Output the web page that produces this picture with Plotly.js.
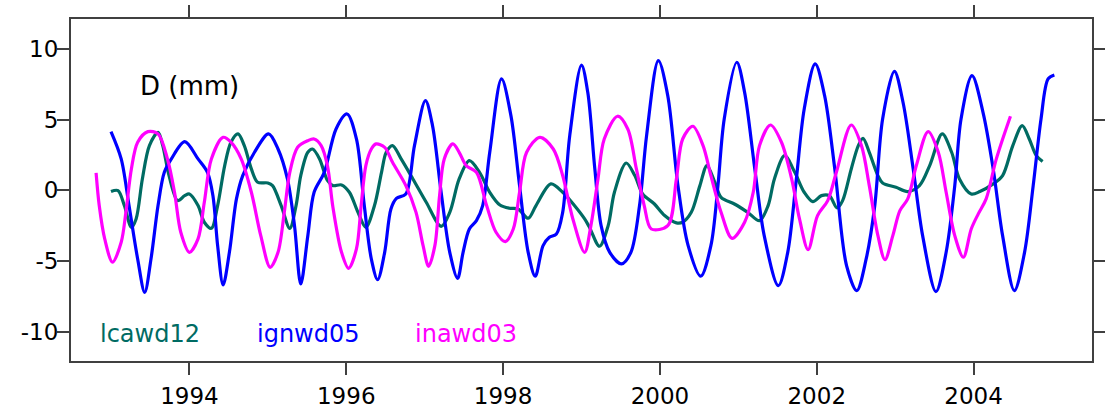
<!DOCTYPE html>
<html>
<head>
<meta charset="utf-8">
<script src="https://cdn.plot.ly/plotly-3.0.1.min.js"></script>
<style>html,body{margin:0;padding:0;background:#fff;}#chart{width:1105px;height:409px;}</style>
</head>
<body>
<div id="chart"></div>
<script>
// lcawd12 (teal)
const lcawdX = [1993.0,1993.09,1993.17,1993.26,1993.32,1993.40,1993.49,1993.60,1993.66,1993.74,1993.85,1993.94,1994.0,1994.11,1994.19,1994.28,1994.36,1994.45,1994.53,1994.62,1994.70,1994.79,1994.87,1995.0,1995.06,1995.17,1995.28,1995.36,1995.42,1995.51,1995.57,1995.66,1995.76,1995.83,1995.94,1996.04,1996.15,1996.25,1996.36,1996.45,1996.51,1996.59,1996.70,1996.85,1997.02,1997.21,1997.32,1997.44,1997.57,1997.70,1997.83,1997.96,1998.08,1998.19,1998.32,1998.42,1998.61,1998.76,1998.91,1999.04,1999.10,1999.23,1999.34,1999.42,1999.57,1999.68,1999.78,1999.93,2000.06,2000.21,2000.29,2000.40,2000.51,2000.60,2000.70,2000.78,2000.95,2001.12,2001.27,2001.38,2001.46,2001.59,2001.72,2001.84,2001.95,2002.06,2002.16,2002.26,2002.33,2002.44,2002.53,2002.59,2002.67,2002.78,2002.84,2003.01,2003.16,2003.31,2003.44,2003.60,2003.72,2003.82,2003.97,2004.08,2004.25,2004.37,2004.50,2004.62,2004.71,2004.80,2004.88];
const lcawdY = [-0.09,-0.02,-1.08,-2.62,-2.03,0.80,3.16,4.10,3.16,1.04,-0.73,-0.38,-0.26,-1.08,-2.26,-2.69,-1.08,1.75,3.40,3.99,3.16,1.51,0.57,0.52,0.33,-1.08,-2.69,-1.08,1.04,2.69,2.92,2.22,0.70,0.33,0.38,-0.14,-1.56,-2.62,-1.08,1.27,2.69,3.16,2.22,0.80,-0.85,-2.55,-1.56,0.80,2.10,1.27,-0.14,-1.04,-1.27,-1.32,-1.98,-1.08,0.45,-0.14,-1.08,-2.03,-2.60,-3.96,-2.50,-0.14,1.93,1.04,-0.26,-0.97,-1.79,-2.31,-2.26,-1.56,0.33,1.75,0.57,-0.50,-0.97,-1.56,-2.15,-1.08,0.80,2.45,1.27,-0.14,-0.80,-0.38,-0.38,-1.25,-0.73,1.51,3.16,3.68,2.69,1.04,0.52,0.21,-0.09,0.33,1.75,3.99,2.69,0.80,-0.26,-0.09,0.45,1.04,3.16,4.58,3.63,2.45,2.03];

// ignwd05 (blue)
const ignwdX = [1993.0,1993.13,1993.23,1993.34,1993.43,1993.51,1993.60,1993.68,1993.77,1993.94,1994.11,1994.23,1994.30,1994.36,1994.43,1994.51,1994.60,1994.68,1994.83,1995.01,1995.13,1995.25,1995.34,1995.42,1995.51,1995.59,1995.72,1995.87,1996.01,1996.13,1996.23,1996.32,1996.40,1996.49,1996.57,1996.64,1996.76,1996.87,1997.01,1997.10,1997.21,1997.32,1997.42,1997.49,1997.57,1997.66,1997.74,1997.83,1997.98,1998.10,1998.21,1998.32,1998.41,1998.51,1998.59,1998.68,1998.76,1998.85,1999.0,1999.08,1999.17,1999.25,1999.36,1999.51,1999.63,1999.74,1999.83,1999.98,2000.10,2000.23,2000.36,2000.52,2000.65,2000.74,2000.82,2000.98,2001.08,2001.21,2001.33,2001.51,2001.63,2001.74,2001.84,2001.98,2002.10,2002.23,2002.38,2002.51,2002.63,2002.74,2002.84,2002.99,2003.10,2003.23,2003.35,2003.52,2003.65,2003.76,2003.84,2003.98,2004.12,2004.25,2004.37,2004.52,2004.65,2004.76,2004.86,2004.95,2005.03];
const ignwdY = [4.15,2.22,-1.08,-4.86,-7.22,-4.86,-1.08,1.27,2.22,3.44,2.22,1.27,-0.38,-3.92,-6.70,-4.39,-0.61,1.04,2.69,3.99,2.92,0.80,-2.50,-6.63,-3.21,-0.14,1.27,4.34,5.40,3.63,-1.08,-4.86,-6.32,-4.39,-1.32,-0.57,-0.26,3.16,6.34,4.58,-0.14,-4.39,-6.23,-4.39,-2.74,-2.15,-1.08,2.69,7.88,5.28,0.33,-4.39,-6.08,-3.92,-3.33,-3.09,-1.56,3.87,8.85,6.93,1.51,-2.50,-4.39,-5.21,-4.39,-1.08,3.87,9.17,6.70,0.33,-3.92,-6.08,-3.92,0.33,5.05,9.06,6.93,1.51,-3.21,-6.75,-4.39,0.80,5.75,8.94,6.70,1.51,-5.33,-7.10,-4.86,-1.08,5.05,8.42,6.23,1.51,-3.21,-7.17,-4.39,0.33,5.05,8.11,5.52,1.51,-3.21,-7.10,-4.39,0.33,5.05,7.88,8.16];

// inawd03 (magenta)
const inawdX = [1992.81,1992.85,1992.92,1993.02,1993.13,1993.19,1993.26,1993.34,1993.47,1993.60,1993.72,1993.81,1993.89,1994.0,1994.11,1994.19,1994.28,1994.43,1994.53,1994.66,1994.79,1994.91,1995.03,1995.13,1995.21,1995.28,1995.38,1995.51,1995.59,1995.68,1995.76,1995.83,1995.94,1996.03,1996.13,1996.19,1996.25,1996.32,1996.38,1996.49,1996.59,1996.76,1996.89,1996.98,1997.05,1997.13,1997.19,1997.25,1997.36,1997.44,1997.53,1997.66,1997.79,1997.91,1998.03,1998.13,1998.21,1998.30,1998.47,1998.64,1998.76,1998.89,1999.04,1999.12,1999.21,1999.29,1999.46,1999.59,1999.70,1999.80,1999.89,2000.10,2000.21,2000.29,2000.42,2000.55,2000.65,2000.78,2000.92,2001.08,2001.19,2001.27,2001.41,2001.55,2001.68,2001.78,2001.89,2002.01,2002.14,2002.25,2002.44,2002.57,2002.67,2002.78,2002.87,2002.97,2003.06,2003.16,2003.27,2003.42,2003.55,2003.65,2003.76,2003.87,2003.97,2004.06,2004.16,2004.29,2004.47];
const inawdY = [1.23,-1.08,-3.44,-5.09,-3.68,-1.56,1.51,3.40,4.15,3.99,2.22,-0.14,-2.97,-4.39,-3.44,-0.85,2.22,3.75,3.40,2.22,-0.14,-3.21,-5.45,-4.39,-1.56,1.27,3.04,3.51,3.63,3.16,1.75,-1.20,-4.39,-5.52,-4.15,-1.08,1.75,2.92,3.28,3.04,1.98,0.33,-1.56,-3.92,-5.38,-3.92,-0.38,2.22,3.28,2.69,1.75,1.27,-1.08,-2.97,-3.63,-2.74,-0.14,2.69,3.75,2.92,1.04,-2.03,-4.39,-2.50,0.80,3.63,5.24,4.34,1.51,-1.08,-2.74,-2.50,0.80,3.63,4.53,3.16,1.04,-1.56,-3.40,-2.26,-0.14,3.16,4.62,3.40,0.80,-2.03,-4.20,-1.79,-0.73,1.27,4.62,3.16,0.33,-3.21,-4.91,-3.21,-1.44,-0.61,1.75,4.15,2.69,-0.14,-3.21,-4.74,-2.74,-1.67,-0.61,2.22,5.24];

const xTickVals = [1994,1996,1998,2000,2002,2004];
const yTickVals = [-10,-5,0,5,10];
const seriesNames = ['lcawd12','ignwd05','inawd03'];
const seriesColors = ['#006b63','#0000ff','#ff00ff'];

const FONT = 'DejaVu Sans, Verdana, sans-serif';
const mk = (x, y, i) => ({x: x, y: y, type: 'scatter', mode: 'lines', name: seriesNames[i],
  line: {color: seriesColors[i], width: 3.2, shape: 'spline', smoothing: 0.9}, hoverinfo: 'skip'});

const data = [mk(lcawdX, lcawdY, 0), mk(ignwdX, ignwdY, 1), mk(inawdX, inawdY, 2)];

const axisCommon = {showline: true, linecolor: '#404040', linewidth: 2, mirror: 'ticks',
  ticks: 'outside', ticklen: 12, tickwidth: 2, tickcolor: '#404040', showgrid: false, zeroline: false,
  tickfont: {family: FONT, size: 23, color: '#000'}};

const layout = {
  width: 1105, height: 409,
  margin: {l: 71, r: 13, t: 19, b: 48, pad: 0},
  paper_bgcolor: '#fff', plot_bgcolor: '#fff',
  showlegend: false,
  xaxis: Object.assign({}, axisCommon, {range: [1992.49, 2005.51], tickvals: xTickVals, ticktext: xTickVals.map(String), ticklabelstandoff: 1}),
  yaxis: Object.assign({}, axisCommon, {range: [-12.08, 12.12], tickvals: yTickVals, ticktext: yTickVals.map(String), ticklabelstandoff: -6}),
  annotations: [
    {text: 'D (mm)', xref: 'paper', yref: 'paper', x: 0.0656, y: 0.804, xanchor: 'left', yanchor: 'middle', showarrow: false, font: {family: FONT, size: 26, color: '#000'}},
    {text: seriesNames[0], xref: 'paper', yref: 'paper', x: 0.0264, y: 0.079, xanchor: 'left', yanchor: 'middle', showarrow: false, font: {family: FONT, size: 24, color: seriesColors[0]}},
    {text: seriesNames[1], xref: 'paper', yref: 'paper', x: 0.180, y: 0.079, xanchor: 'left', yanchor: 'middle', showarrow: false, font: {family: FONT, size: 24, color: seriesColors[1]}},
    {text: seriesNames[2], xref: 'paper', yref: 'paper', x: 0.335, y: 0.079, xanchor: 'left', yanchor: 'middle', showarrow: false, font: {family: FONT, size: 24, color: seriesColors[2]}}
  ]
};

Plotly.newPlot('chart', data, layout, {staticPlot: true, displayModeBar: false});
</script>
</body>
</html>
